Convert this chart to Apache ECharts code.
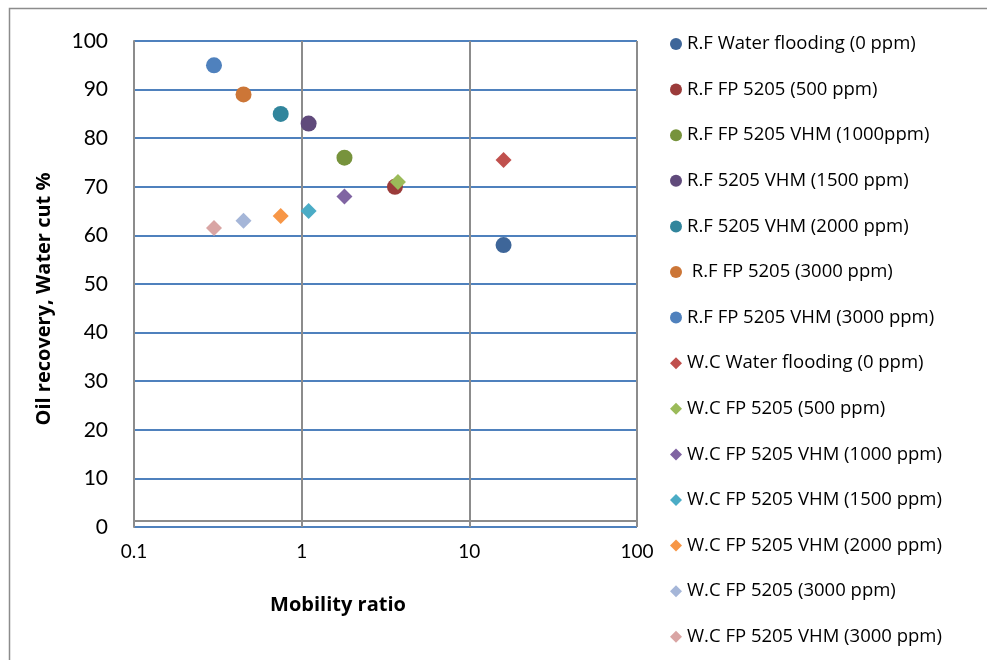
<!doctype html>
<html>
<head>
<meta charset="UTF-8"/>
<title>Oil recovery, Water cut vs Mobility ratio</title>
<script src="https://cdn.jsdelivr.net/npm/echarts@6/dist/echarts.min.js"></script>
<style>
html,body{margin:0;padding:0;background:#fff;}
#chart{width:987px;height:660px;}
</style>
</head>
<body>
<div id="chart"></div>
<script>
// series names, in legend order
var seriesNames = [
    'R.F Water flooding (0 ppm)',
    'R.F FP 5205 (500 ppm)',
    'R.F FP 5205 VHM (1000ppm)',
    'R.F 5205 VHM (1500 ppm)',
    'R.F 5205 VHM (2000 ppm)',
    ' R.F FP 5205 (3000 ppm)',
    'R.F FP 5205 VHM (3000 ppm)',
    'W.C Water flooding (0 ppm)',
    'W.C FP 5205 (500 ppm)',
    'W.C FP 5205 VHM (1000 ppm)',
    'W.C FP 5205 VHM (1500 ppm)',
    'W.C FP 5205 VHM (2000 ppm)',
    'W.C FP 5205 (3000 ppm)',
    'W.C FP 5205 VHM (3000 ppm)'
];
// mobility ratio of each point
var mobility = [16, 3.6, 1.8, 1.1, 0.75, 0.45, 0.3, 16, 3.75, 1.8, 1.1, 0.75, 0.45, 0.3];
// oil recovery (R.F) or water cut (W.C), %
var percent = [58, 70, 76, 83, 85, 89, 95, 75.5, 71, 68, 65, 64, 63, 61.5];
var colors = ['#3e6699', '#9b3b3a', '#77933c', '#604a7b', '#31859c', '#cc7637', '#4f81bd',
              '#c0504d', '#9bbb59', '#8064a2', '#4bacc6', '#f79646', '#a5b6d8', '#d9a5a4'];
var xTicks = [0.1, 1, 10, 100];

var FONT = 'Lato, "Open Sans", sans-serif';
var FONT2 = '"Open Sans", sans-serif';

var myChart = echarts.init(document.getElementById('chart'));

var series = [];
var legendData = [];
for (var i = 0; i < seriesNames.length; i++) {
    var isWC = seriesNames[i].trim().indexOf('W.C') === 0;
    series.push({
        name: seriesNames[i],
        type: 'scatter',
        symbol: isWC ? 'diamond' : 'circle',
        symbolSize: 16,
        itemStyle: { color: colors[i], opacity: 1 },
        data: [[mobility[i], percent[i]]]
    });
    legendData.push({ name: seriesNames[i], icon: isWC ? 'diamond' : 'circle' });
}

var option = {
    animation: false,
    textStyle: { fontFamily: FONT },
    graphic: [{
        type: 'rect',
        shape: { x: 9.5, y: 8.5, width: 1000, height: 700 },
        style: { fill: 'none', stroke: '#8c8c8c', lineWidth: 1.5 },
        silent: true, z: -10
    }, {
        type: 'text',
        x: 338, y: 605,
        style: { text: 'Mobility ratio', font: 'bold 20px "Open Sans", sans-serif', fill: '#000',
                 textAlign: 'center', textVerticalAlign: 'middle' }
    }, {
        type: 'text',
        x: 44, y: 299,
        rotation: Math.PI / 2,
        style: { text: 'Oil recovery, Water cut %', font: 'bold 20px "Open Sans", sans-serif', fill: '#000',
                 textAlign: 'center', textVerticalAlign: 'middle' }
    }],
    grid: { left: 134, right: 350, top: 41, bottom: 133 },
    legend: {
        orient: 'vertical',
        left: 670,
        top: 34.5,
        height: 640,
        padding: 0,
        itemWidth: 12,
        itemHeight: 12,
        itemGap: 26.6,
        data: legendData,
        textStyle: { fontFamily: FONT2, fontSize: 18.5, color: '#000' }
    },
    xAxis: {
        type: 'log',
        logBase: 10,
        min: 0.1,
        max: 100,
        offset: -6,
        axisLine: { show: true, onZero: false, lineStyle: { color: '#8c8c8c', width: 2 } },
        axisTick: { show: true, length: 5, inside: false, lineStyle: { color: '#8c8c8c', width: 1.5 } },
        axisLabel: {
            margin: 21, fontSize: 19, color: '#000', fontFamily: FONT,
            formatter: function (v) { return xTicks.indexOf(+v.toPrecision(3)) >= 0 ? String(+v.toPrecision(3)) : ''; }
        },
        splitLine: { show: true, lineStyle: { color: '#8c8c8c', width: 2 } },
        minorTick: { show: false }
    },
    yAxis: {
        type: 'value',
        min: 0,
        max: 100,
        interval: 10,
        axisLine: { show: true, lineStyle: { color: '#8c8c8c', width: 2 } },
        axisTick: { show: false },
        axisLabel: { margin: 26, fontSize: 21, color: '#000', fontFamily: FONT },
        splitLine: { show: true, lineStyle: { color: '#4f81bd', width: 2 } }
    },
    series: series
};

myChart.setOption(option);
</script>
</body>
</html>
